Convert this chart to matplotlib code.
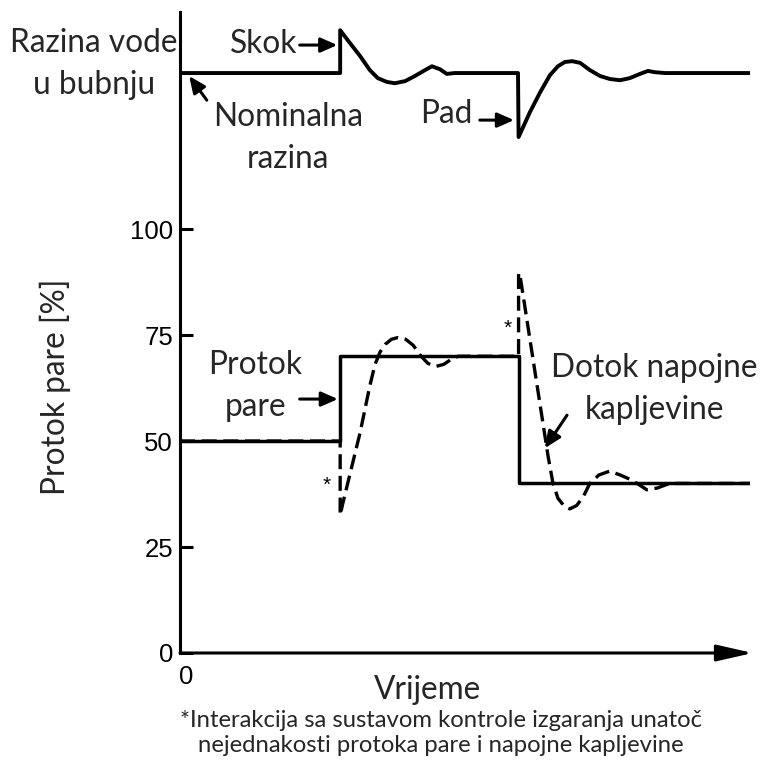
import matplotlib
matplotlib.use("Agg")
import matplotlib.pyplot as plt

# vrijeme (proizvoljne jedinice 0-100)
level_t = [0, 28.1, 28.1, 29.8, 31.6, 33.3, 34.7, 36.3, 37.7, 39.5, 41.2, 43.0, 44.2,
           45.6, 46.8, 48.2, 59.3, 59.4, 61.4, 63.2, 64.9, 66.3, 67.5, 68.8, 70.2,
           71.9, 73.7, 75.4, 77.2, 78.9, 80.7, 82.1, 83.3, 85.1, 100]
level_v = [136.8, 136.8, 146.9, 143.9, 140.8, 137.5, 135.6, 134.7, 134.4, 134.9, 136.1,
           137.5, 138.4, 137.7, 136.6, 136.8, 136.8, 121.7, 127.6, 132.3, 136.3, 138.4,
           139.4, 139.6, 139.2, 137.5, 136.1, 135.4, 135.1, 135.6, 136.6, 137.3, 137.0,
           136.8, 136.8]

# protok pare (step)
steam_t = [0, 28.1, 59.4, 100]
steam_v = [50, 70, 40, 40]

# dotok napojne kapljevine
feed_t = [0, 28.1, 28.1, 28.6, 31.6, 33.3, 34.2, 35.1, 36.0, 37.1, 38.2, 39.6, 40.9,
          42.3, 43.5, 44.9, 46.3, 47.5, 48.8, 59.4, 59.4, 59.6, 64.6, 65.4, 66.3, 67.5,
          68.4, 69.6, 70.8, 71.9, 73.5, 75.4, 77.2, 78.9, 80.2, 81.9, 83.7, 85.9, 100]
feed_v = [50, 50, 32.5, 35.5, 52, 63, 68, 71, 72.8, 74.0, 74.4, 74.0, 72.6,
          70.0, 68.3, 67.6, 68.1, 69.2, 70.0, 70, 89.6, 89.5, 46.2, 40.3, 36.5, 34.5,
          34.0, 34.8, 37.0, 40.0, 42.0, 42.9, 42.0, 41.0, 40.0, 38.5, 38.9, 40.0, 40]

yticks = [0, 25, 50, 75, 100]

LBL = "Lato"
TXT = "#262626"
FS = 22.8
LS = 1.5

fig = plt.figure(figsize=(7.6, 7.69), dpi=100)
ax = fig.add_axes([180/760, 116/769, 570/760, 641/769])

ax.plot(level_t, level_v, color="k", lw=2.8, solid_joinstyle="round")
ax.plot(steam_t, steam_v, color="k", lw=2.5, drawstyle="steps-post")
ax.plot(feed_t, feed_v, color="k", lw=2.4, linestyle=(0, (4.5, 2.0)))

ax.set_xlim(0, 100)
ax.set_ylim(0, 151.2)

for s in ["top", "right", "bottom"]:
    ax.spines[s].set_visible(False)
ax.spines["left"].set_linewidth(2.2)

ax.set_yticks(yticks)
ax.set_yticklabels([str(v) for v in yticks], fontfamily="Liberation Sans", fontsize=18.5)
ax.tick_params(axis="y", direction="in", length=9, width=2.2, pad=5)
ax.set_xticks([])

# x os sa strelicom
ax.annotate("", xy=(100.5, 0), xytext=(0, 0), xycoords="data",
            arrowprops=dict(arrowstyle="-|>,head_length=1.1,head_width=0.25",
                            lw=2.2, color="k", shrinkA=0, shrinkB=0,
                            mutation_scale=20), annotation_clip=False)
ax.annotate("0", xy=(0, 0), xytext=(-1, -9), textcoords="offset points",
            ha="left", va="top", fontfamily="Liberation Sans", fontsize=18.5,
            annotation_clip=False)

arw = dict(arrowstyle="-|>,head_length=0.5,head_width=0.22", lw=2.2, color="k",
           shrinkA=0, shrinkB=0, mutation_scale=20)

ax.text(-15.1, 138.9, "Razina vode\nu bubnju", ha="center", va="center",
        fontfamily=LBL, fontsize=FS, color=TXT, linespacing=LS)
ax.text(14.7, 143.6, "Skok", ha="center", va="center", fontfamily=LBL,
        fontsize=FS, color=TXT)
ax.annotate("", xy=(27.6, 143.4), xytext=(21.0, 143.4), arrowprops=arw)
ax.text(18.9, 121.5, "Nominalna\nrazina", ha="center", va="center",
        fontfamily=LBL, fontsize=FS, color=TXT, linespacing=LS)
ax.annotate("", xy=(1.6, 136.1), xytext=(4.7, 130.4), arrowprops=arw)
ax.text(46.7, 127.1, "Pad", ha="center", va="center", fontfamily=LBL,
        fontsize=FS, color=TXT)
ax.annotate("", xy=(58.6, 125.7), xytext=(52.6, 125.7), arrowprops=arw)

ax.text(13.2, 63.0, "Protok\npare", ha="center", va="center", fontfamily=LBL,
        fontsize=FS, color=TXT, linespacing=LS)
ax.annotate("", xy=(27.7, 59.9), xytext=(21.0, 59.9), arrowprops=arw)
ax.text(83.2, 62.3, "Dotok napojne\nkapljevine", ha="center", va="center",
        fontfamily=LBL, fontsize=FS, color=TXT, linespacing=LS)
ax.annotate("", xy=(64.0, 48.3), xytext=(67.9, 56.1), arrowprops=arw)

ax.text(25.8, 39.6, "*", ha="center", va="center", fontfamily="Liberation Sans",
        fontsize=15)
ax.text(57.5, 76.7, "*", ha="center", va="center", fontfamily="Liberation Sans",
        fontsize=15)

fig.text(55/760, 1 - 387/769, "Protok pare [%]", rotation=90, ha="center",
         va="center", fontfamily=LBL, fontsize=FS, color=TXT)
fig.text(428/760, 1 - 690/769, "Vrijeme", ha="center", va="center",
         fontfamily=LBL, fontsize=FS, color=TXT)
fig.text(441/760, 1 - 733/769,
         "*Interakcija sa sustavom kontrole izgaranja unatoč\n"
         "nejednakosti protoka pare i napojne kapljevine",
         ha="center", va="center", fontfamily=LBL, fontsize=17.2, color=TXT,
         linespacing=1.26)

fig.savefig("out.png", dpi=100)
